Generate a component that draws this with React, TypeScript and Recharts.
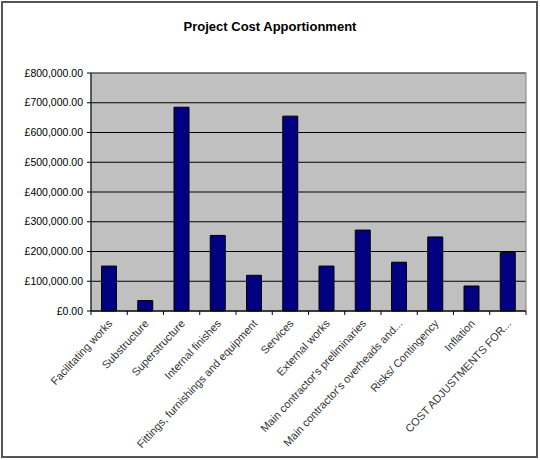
import React from "react";
import {
  BarChart,
  Bar,
  XAxis,
  YAxis,
  CartesianGrid,
  ReferenceArea,
} from "recharts";

const categories = [
  "Facilitating works",
  "Substructure",
  "Superstructure",
  "Internal finishes",
  "Fittings, furnishings and equipment",
  "Services",
  "External works",
  "Main contractor's preliminaries",
  "Main contractor's overheads and...",
  "Risks/ Contingency",
  "Inflation",
  "COST ADJUSTMENTS FOR...",
];

const costs = [
  151000, 35000, 685000, 254000, 120000, 655000, 151000, 272000, 164000,
  249000, 84000, 197000,
];

const yTicks = [0, 100000, 200000, 300000, 400000, 500000, 600000, 700000, 800000];

const data = categories.map((name, i) => ({ name, cost: costs[i] }));

const W = 540;
const H = 460;
const PLOT_LEFT = 91;
const PLOT_RIGHT = 526;
const PLOT_TOP = 73;
const PLOT_BOTTOM = 311;
const BAND = (PLOT_RIGHT - PLOT_LEFT) / categories.length;
const FONT = "'Liberation Sans', Arial, sans-serif";

function pounds(v: number) {
  const s = Math.round(v)
    .toString()
    .replace(/\B(?=(\d{3})+(?!\d))/g, ",");
  return `£${s}.00`;
}

function CategoryTick(props: any) {
  const { x, y, payload, index } = props;
  return (
    <g>
      {index === 0 && (
        <line x1={x - BAND / 2} x2={x - BAND / 2} y1={y} y2={y + 4} stroke="#000" />
      )}
      <line x1={x + BAND / 2} x2={x + BAND / 2} y1={y} y2={y + 4} stroke="#000" />
      <text
        transform={`translate(${x + 4},${y + 13}) rotate(-47)`}
        textAnchor="end"
        fontSize={11}
        fontFamily={FONT}
        fill="#333"
      >
        {payload.value}
      </text>
    </g>
  );
}

export default function App() {
  return (
    <div style={{ position: "relative", width: W, height: H, background: "#fff" }}>
      <style>{`body{margin:0}`}</style>
      <div
        style={{
          position: "absolute",
          left: 0,
          top: 0,
          width: W,
          textAlign: "center",
          paddingTop: 19,
          fontFamily: FONT,
          fontWeight: "bold",
          fontSize: 13,
          color: "#000",
        }}
      >
        Project Cost Apportionment
      </div>
      <BarChart
        width={W}
        height={H}
        data={data}
        barCategoryGap="29%"
        margin={{
          top: PLOT_TOP,
          right: W - PLOT_RIGHT,
          left: PLOT_LEFT - 86,
          bottom: 5,
        }}
      >
        <CartesianGrid
          vertical={false}
          stroke="#000"
          strokeWidth={1}
          fill="#C0C0C0"
          fillOpacity={1}
        />
        <ReferenceArea
          y1={0}
          y2={800000}
          fill="none"
          stroke="#808080"
          strokeWidth={1}
        />
        <XAxis
          dataKey="name"
          interval={0}
          height={H - PLOT_BOTTOM - 5}
          axisLine={{ stroke: "#000" }}
          tickLine={false}
          tickSize={0}
          tickMargin={0}
          tick={<CategoryTick />}
        />
        <YAxis
          width={86}
          domain={[0, 800000]}
          ticks={yTicks}
          interval={0}
          tickFormatter={pounds}
          axisLine={{ stroke: "#000" }}
          tickLine={{ stroke: "#000" }}
          tickSize={4}
          tickMargin={4}
          tick={{ fontSize: 10.5, fontFamily: FONT, fill: "#000" }}
        />
        <Bar
          dataKey="cost"
          fill="#000080"
          stroke="#000"
          strokeWidth={1}
          isAnimationActive={false}
        />
      </BarChart>
      <div
        style={{
          position: "absolute",
          left: 1,
          top: 1,
          width: W - 3,
          height: H - 3,
          boxSizing: "border-box",
          border: "2px solid #555",
          pointerEvents: "none",
        }}
      />
    </div>
  );
}
